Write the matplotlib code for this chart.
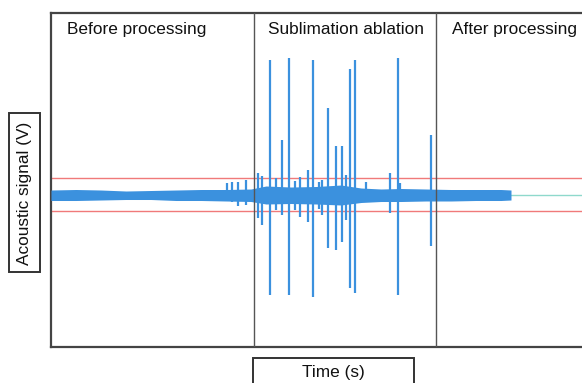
import matplotlib
matplotlib.use("Agg")
import matplotlib.pyplot as plt
from matplotlib.patches import Rectangle

plt.rcParams['font.family'] = ['Liberation Sans', 'DejaVu Sans']

# stage boundaries and thresholds (s, V)
stage_edges = [4.06, 7.70]
stage_names = ["Before processing", "Sublimation ablation", "After processing"]
stage_label_t = [0.32, 4.34, 8.02]
thr_hi = 0.34
thr_lo = -0.32
t_end_signal = 9.2
t_end = 10.62

# background noise envelope of the acoustic signal
env_t = [0, 0.5, 1.0, 1.5, 2.0, 2.5, 3.0, 3.5, 4.0, 4.3, 4.8, 5.3, 5.8,
         6.2, 6.6, 7.0, 7.5, 8.0, 8.5, 9.0, 9.2]
env_hi = [0.10, 0.11, 0.10, 0.08, 0.09, 0.10, 0.11, 0.11, 0.12, 0.18, 0.16,
          0.17, 0.20, 0.14, 0.12, 0.13, 0.12, 0.11, 0.11, 0.11, 0.10]
env_lo = [-0.11, -0.11, -0.10, -0.09, -0.09, -0.11, -0.11, -0.12, -0.13,
          -0.18, -0.17, -0.18, -0.20, -0.15, -0.13, -0.13, -0.12, -0.12,
          -0.11, -0.11, -0.10]

# acoustic bursts: time, positive peak, negative peak
spike_t = [3.52, 3.62, 3.74, 3.90, 4.14, 4.22, 4.38, 4.50, 4.62, 4.76, 4.88,
           4.98, 5.14, 5.24, 5.36, 5.42, 5.54, 5.70, 5.82, 5.90, 5.98, 6.08,
           6.30, 6.78, 6.94, 6.98, 7.60]
spike_top = [0.24, 0.26, 0.26, 0.30, 0.44, 0.38, 2.70, 0.34, 1.10, 2.74, 0.28,
             0.36, 0.50, 2.70, 0.26, 0.30, 1.74, 0.98, 0.98, 0.40, 2.52, 2.70,
             0.26, 0.44, 2.74, 0.24, 1.20]
spike_bot = [-0.10, -0.14, -0.22, -0.20, -0.46, -0.60, -2.00, -0.30, -0.40,
             -2.00, -0.30, -0.44, -0.54, -2.04, -0.28, -0.40, -1.06, -1.10,
             -0.94, -0.50, -1.86, -1.96, -0.10, -0.36, -2.00, -0.14, -1.02]

blue = '#3b91de'

fig = plt.figure(figsize=(5.82, 3.83), dpi=100)
ax = fig.add_axes([0.0876, 0.094, 0.9124, 0.872])

ax.fill_between(env_t, env_lo, env_hi, color=blue, lw=0, zorder=3)
ax.vlines(spike_t, spike_bot, spike_top, color=blue, lw=1.6, zorder=3)
ax.plot([t_end_signal, t_end], [0, 0], color='#8fd9cc', lw=1.0, zorder=2)

ax.axhline(thr_hi, color='#f07a7a', lw=1.0, zorder=2)
ax.axhline(thr_lo, color='#f07a7a', lw=1.0, zorder=2)
for e in stage_edges:
    ax.axvline(e, color='#555555', lw=1.0, zorder=4)

for name, t in zip(stage_names, stage_label_t):
    ax.text(t, 3.32, name, fontsize=12.4, va='center', ha='left', color='#111111')

ax.set_xlim(0, t_end)
ax.set_ylim(-3.04, 3.64)
ax.set_xticks([])
ax.set_yticks([])
for s in ['left', 'top', 'bottom']:
    ax.spines[s].set_color('#444444')
    ax.spines[s].set_linewidth(1.6)
ax.spines['right'].set_visible(False)

# boxed axis labels
W, H = 582, 383
fig.patches.append(Rectangle((9 / W, 1 - 272 / H), 31 / W, 159 / H,
                             transform=fig.transFigure, fill=False,
                             ec='#333333', lw=1.4))
fig.text(25 / W, 1 - 193 / H, "Acoustic signal (V)", rotation=90,
         fontsize=12.4, ha='center', va='center', color='#111111')
fig.patches.append(Rectangle((253 / W, -0.02), 161 / W, 0.02 + (383 - 358) / H,
                             transform=fig.transFigure, fill=False,
                             ec='#333333', lw=1.4))
fig.text(333 / W, 1 - 372 / H, "Time (s)", fontsize=12.4,
         ha='center', va='center', color='#111111')

fig.savefig('out.png', dpi=100)
